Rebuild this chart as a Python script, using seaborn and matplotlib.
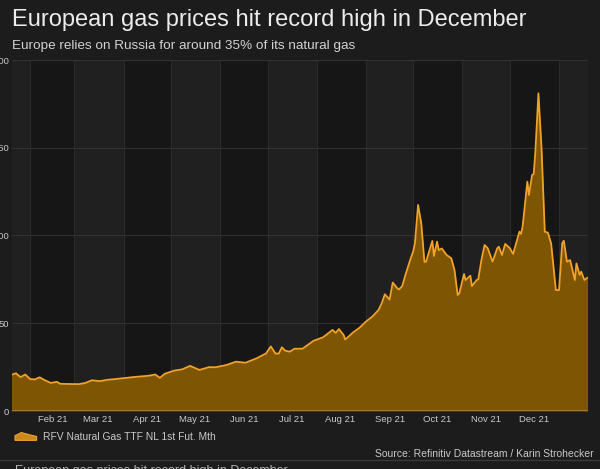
import pandas as pd
import matplotlib
matplotlib.use("Agg")
import matplotlib.pyplot as plt
from matplotlib.patches import Patch, Polygon
from matplotlib.lines import Line2D
from matplotlib.legend_handler import HandlerPatch
import seaborn as sns

# TTF front-month price, EUR/MWh
dates = [
    "2021-01-20", "2021-01-23", "2021-01-26", "2021-01-29", "2021-02-01", "2021-02-04",
    "2021-02-07", "2021-02-10", "2021-02-14", "2021-02-18", "2021-02-20", "2021-02-24",
    "2021-03-04", "2021-03-08", "2021-03-12", "2021-03-17", "2021-03-22", "2021-03-27",
    "2021-04-07", "2021-04-17", "2021-04-21", "2021-04-24", "2021-04-27", "2021-05-03",
    "2021-05-08", "2021-05-13", "2021-05-19", "2021-05-25", "2021-05-29", "2021-06-05",
    "2021-06-11", "2021-06-17", "2021-06-24", "2021-06-30", "2021-07-03", "2021-07-06",
    "2021-07-08", "2021-07-10", "2021-07-12", "2021-07-15", "2021-07-18", "2021-07-23",
    "2021-07-30", "2021-08-05", "2021-08-11", "2021-08-13", "2021-08-15", "2021-08-18",
    "2021-08-19", "2021-08-24", "2021-08-28", "2021-09-01", "2021-09-05", "2021-09-09",
    "2021-09-11", "2021-09-13", "2021-09-16", "2021-09-18", "2021-09-21", "2021-09-22",
    "2021-09-24", "2021-09-26", "2021-09-29", "2021-10-01", "2021-10-02", "2021-10-04",
    "2021-10-06", "2021-10-08", "2021-10-09", "2021-10-13", "2021-10-14", "2021-10-16",
    "2021-10-17", "2021-10-19", "2021-10-22", "2021-10-25", "2021-10-27", "2021-10-29",
    "2021-10-30", "2021-11-02", "2021-11-03", "2021-11-06", "2021-11-07", "2021-11-10",
    "2021-11-11", "2021-11-13", "2021-11-15", "2021-11-17", "2021-11-20", "2021-11-23",
    "2021-11-24", "2021-11-26", "2021-11-28", "2021-12-01", "2021-12-03", "2021-12-07",
    "2021-12-08", "2021-12-09", "2021-12-12", "2021-12-13", "2021-12-15", "2021-12-16",
    "2021-12-17", "2021-12-19", "2021-12-21", "2021-12-23", "2021-12-25", "2021-12-27",
    "2021-12-30", "2022-01-01", "2022-01-03", "2022-01-04", "2022-01-06", "2022-01-08",
    "2022-01-11", "2022-01-12", "2022-01-14", "2022-01-15", "2022-01-17", "2022-01-19",
]
prices = [
    20.5, 21.5, 19.3, 20.8, 18.2, 18.0,
    19.2, 17.7, 16.0, 16.6, 15.5, 15.4,
    15.3, 16.0, 17.5, 17.0, 17.8, 18.2,
    19.3, 20.1, 20.8, 18.9, 21.2, 23.0,
    23.7, 25.7, 23.4, 25.0, 24.9, 26.2,
    28.1, 27.5, 30.0, 32.8, 36.8, 32.7,
    32.7, 36.3, 34.4, 33.8, 35.5, 35.5,
    40.0, 42.0, 46.2, 44.5, 46.7, 43.3,
    40.7, 44.8, 47.4, 50.9, 53.7, 57.5,
    61.3, 66.5, 63.5, 73.2, 69.8, 69.3,
    71.2, 77.5, 86.0, 91.2, 95.5, 117.4,
    107.0, 85.0, 85.0, 96.9, 88.3, 96.5,
    91.7, 92.6, 88.9, 87.0, 80.3, 66.1,
    67.0, 78.0, 74.6, 77.1, 71.2, 74.6,
    75.0, 86.0, 94.6, 92.7, 85.1, 92.7,
    93.6, 88.9, 95.2, 92.7, 89.5, 102.2,
    100.9, 105.0, 130.7, 123.1, 134.5, 135.0,
    146.8, 181.0, 148.7, 102.2, 101.6, 95.5,
    68.9, 68.9, 95.5, 97.0, 85.1, 86.0,
    74.6, 84.1, 77.5, 79.4, 74.6, 76.0,
]

tick_dates = ["2021-02-15", "2021-03-16", "2021-04-16", "2021-05-16", "2021-06-16",
              "2021-07-16", "2021-08-16", "2021-09-16", "2021-10-16", "2021-11-16",
              "2021-12-16"]
tick_labels = ["Feb 21", "Mar 21", "Apr 21", "May 21", "Jun 21", "Jul 21",
               "Aug 21", "Sep 21", "Oct 21", "Nov 21", "Dec 21"]
y_ticks = [0, 50, 100, 150, 200]

bg = "#1c1c1c"
fill_col = "#7e5503"
line_col = "#f2a227"
text_col = "#c9c9c9"

sns.set_theme(style="dark")
plt.rcParams["font.family"] = ["Liberation Sans", "DejaVu Sans"]

df = pd.DataFrame({"date": pd.to_datetime(dates), "price": prices})

fig = plt.figure(figsize=(6, 4.69), dpi=100, facecolor=bg)
ax = fig.add_axes([12 / 600, 58 / 469, 576 / 600, 351 / 469])
ax.set_facecolor(bg)

# alternating month bands + month separators
bounds = pd.date_range("2021-01-01", "2022-02-01", freq="MS")
for i, (a, b) in enumerate(zip(bounds[:-1], bounds[1:])):
    ax.axvspan(a, b, color="#202020" if i % 2 == 0 else "#161616", lw=0, zorder=0)
    ax.axvline(b, color="#2a2a2a", lw=0.8, zorder=1)
for y in y_ticks[1:]:
    ax.axhline(y, color="#323232", lw=0.8, zorder=1)

ax.fill_between(df["date"], df["price"], color=fill_col, lw=0, zorder=2)
sns.lineplot(data=df, x="date", y="price", color=line_col, lw=1.3, ax=ax, zorder=3)
ax.axhline(0, color="#a8843c", lw=1.2, zorder=4)

ax.set_xlim(pd.Timestamp("2021-01-20 14:00"), pd.Timestamp("2022-01-19 07:00"))
ax.set_ylim(0, 200)
ax.set_xticks(pd.to_datetime(tick_dates))
ax.set_xticklabels(tick_labels)
ax.set_yticks(y_ticks)
ax.set_xlabel("")
ax.set_ylabel("")
ax.grid(False)
ax.tick_params(axis="x", length=0, pad=3, labelsize=6.8, colors=text_col)
ax.tick_params(axis="y", length=0, pad=2, labelsize=6.8, colors=text_col)
for s in ax.spines.values():
    s.set_visible(False)

fig.text(12 / 600, 1 - 20 / 469, "European gas prices hit record high in December",
         fontsize=17, color="#ececec", va="center")
fig.text(12 / 600, 1 - 46 / 469, "Europe relies on Russia for around 35% of its natural gas",
         fontsize=9.7, color="#d2d2d2", va="center")


def wave(legend, orig_handle, xdescent, ydescent, width, height, fontsize):
    w, h = width, height
    pts = [(-xdescent, -ydescent), (-xdescent, 0.55 * h), (0.3 * w, 0.95 * h),
           (0.55 * w, 0.75 * h), (w, 0.45 * h), (w, -ydescent)]
    return Polygon(pts, closed=True)


handle = Patch(facecolor="#c88a1c", edgecolor=line_col, lw=0.8)
fig.legend([handle], ["RFV Natural Gas TTF NL 1st Fut. Mth"],
           loc="center left", bbox_to_anchor=(15 / 600, 1 - 437 / 469),
           frameon=False, fontsize=7.4, labelcolor=text_col,
           handler_map={Patch: HandlerPatch(patch_func=wave)},
           handlelength=2.1, handleheight=0.8, handletextpad=0.6,
           borderpad=0, borderaxespad=0)

fig.text(594 / 600, 1 - 454 / 469, "Source: Refinitiv Datastream / Karin Strohecker",
         fontsize=7.5, color=text_col, ha="right", va="center")

fig.add_artist(Line2D([0, 1], [1 - 460 / 469] * 2, transform=fig.transFigure,
                      color="#3a3a3a", lw=1))
fig.text(15 / 600, 1 - 465 / 469, "European gas prices hit record high in December",
         fontsize=9, color="#b5b5b5", va="top")

fig.savefig("out.png", dpi=100, facecolor=fig.get_facecolor())
